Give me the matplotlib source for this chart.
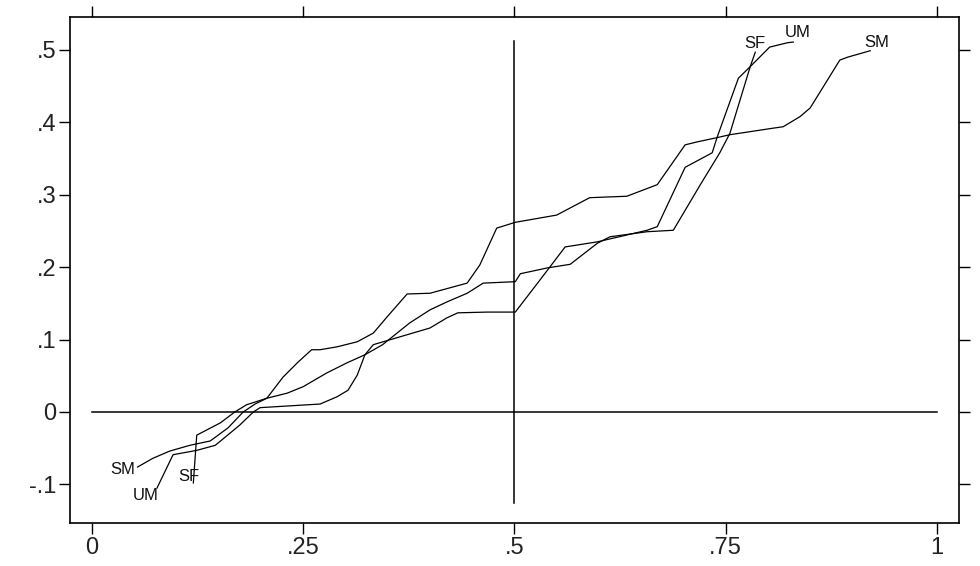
import numpy as np
import matplotlib
matplotlib.use('Agg')
import matplotlib.pyplot as plt

plt.rcParams['font.family'] = ['Liberation Sans', 'DejaVu Sans']

# quantile curves (x = fraction, y = value)
sm_x = [0.054, 0.072, 0.092, 0.116, 0.140, 0.161, 0.179, 0.193, 0.207, 0.226,
        0.244, 0.260, 0.270, 0.290, 0.314, 0.333, 0.349, 0.367, 0.373, 0.400,
        0.444, 0.459, 0.479, 0.501, 0.550, 0.589, 0.633, 0.669, 0.702, 0.716,
        0.740, 0.755, 0.806, 0.818, 0.838, 0.850, 0.885, 0.894, 0.921]
sm_y = [-0.076, -0.064, -0.054, -0.046, -0.040, -0.022, 0.000, 0.011, 0.019, 0.048,
        0.069, 0.086, 0.086, 0.090, 0.097, 0.109, 0.131, 0.155, 0.163, 0.164,
        0.178, 0.203, 0.254, 0.262, 0.272, 0.296, 0.298, 0.314, 0.369, 0.373,
        0.379, 0.383, 0.392, 0.394, 0.408, 0.420, 0.486, 0.490, 0.499]

sf_x = [0.120, 0.124, 0.152, 0.169, 0.183, 0.207, 0.231, 0.250, 0.278, 0.302,
        0.323, 0.344, 0.376, 0.400, 0.420, 0.444, 0.463, 0.501, 0.507, 0.539,
        0.566, 0.598, 0.613, 0.657, 0.688, 0.720, 0.743, 0.755, 0.767, 0.779,
        0.785]
sf_y = [-0.098, -0.032, -0.015, 0.000, 0.010, 0.019, 0.026, 0.035, 0.054, 0.068,
        0.079, 0.093, 0.123, 0.141, 0.152, 0.164, 0.178, 0.180, 0.191, 0.199,
        0.204, 0.233, 0.242, 0.249, 0.251, 0.314, 0.358, 0.385, 0.431, 0.477,
        0.497]

um_x = [0.077, 0.096, 0.124, 0.146, 0.175, 0.191, 0.199, 0.270, 0.290, 0.303,
        0.314, 0.323, 0.333, 0.365, 0.400, 0.420, 0.433, 0.468, 0.501, 0.530,
        0.560, 0.598, 0.657, 0.669, 0.702, 0.734, 0.740, 0.765, 0.779, 0.802,
        0.823, 0.830]
um_y = [-0.105, -0.059, -0.053, -0.046, -0.018, 0.000, 0.006, 0.011, 0.021, 0.030,
        0.051, 0.079, 0.093, 0.104, 0.116, 0.130, 0.137, 0.138, 0.138, 0.182,
        0.228, 0.235, 0.251, 0.256, 0.338, 0.358, 0.380, 0.461, 0.477, 0.504,
        0.510, 0.511]

xticks = [0, 0.25, 0.5, 0.75, 1]
xticklabels = ['0', '.25', '.5', '.75', '1']
yticks = [-0.1, 0, 0.1, 0.2, 0.3, 0.4, 0.5]
yticklabels = ['-.1', '0', '.1', '.2', '.3', '.4', '.5']

vline_x, vline_lo, vline_hi = 0.5, -0.126, 0.512
hline_y, hline_lo, hline_hi = 0.0, 0.0, 1.0

fig = plt.figure(figsize=(9.8, 5.66), dpi=100)
ax = fig.add_axes([0.0714, 0.0760, 0.9071, 0.8940])

ax.plot([hline_lo, hline_hi], [hline_y, hline_y], color='black', lw=1.1)
ax.plot([vline_x, vline_x], [vline_lo, vline_hi], color='black', lw=1.1)

curves = [('SM', sm_x, sm_y), ('SF', sf_x, sf_y), ('UM', um_x, um_y)]
for name, xs, ys in curves:
    ax.plot(xs, ys, color='black', lw=0.9)

lab = dict(fontsize=12, color='#111111', ha='center', va='center',
           textcoords='offset points')
# labels at the start of each curve
ax.annotate('SM', (sm_x[0], sm_y[0]), xytext=(-11, -2), **lab)
ax.annotate('UM', (um_x[0], um_y[0]), xytext=(-8.5, -5.5), **lab)
ax.annotate('SF', (sf_x[0], sf_y[0]), xytext=(-3.5, 4.5), **lab)
# labels at the end of each curve
ax.annotate('SF', (sf_x[-1], sf_y[-1]), xytext=(0, 6.5), **lab)
ax.annotate('UM', (um_x[-1], um_y[-1]), xytext=(3, 7), **lab)
ax.annotate('SM', (sm_x[-1], sm_y[-1]), xytext=(4.5, 6), **lab)

ax.set_xlim(-0.026, 1.026)
ax.set_ylim(-0.1533, 0.5456)
ax.set_xticks(xticks)
ax.set_xticklabels(xticklabels)
ax.set_yticks(yticks)
ax.set_yticklabels(yticklabels)
ax.tick_params(direction='out', length=8, width=1, labelsize=17,
               labelcolor='#222222', top=True, right=True, pad=2)

for s in ax.spines.values():
    s.set_linewidth(1.2)

fig.savefig('out.png', dpi=100)
